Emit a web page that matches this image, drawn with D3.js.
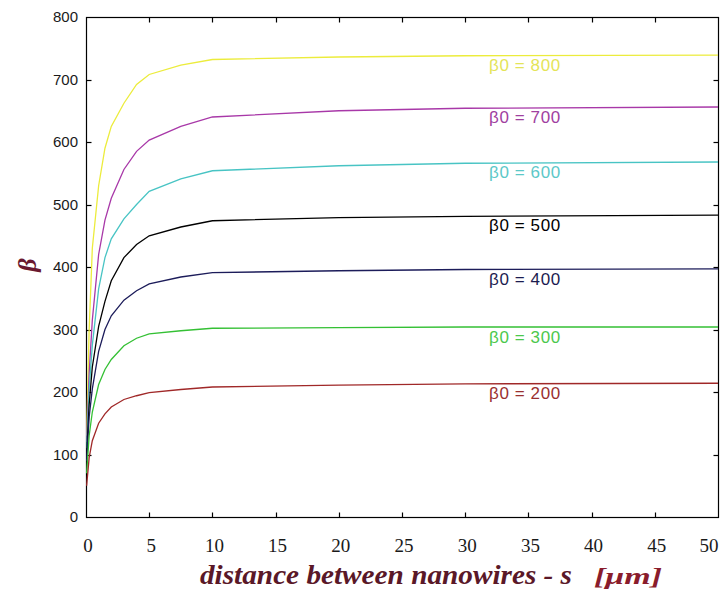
<!DOCTYPE html>
<html>
<head>
<meta charset="utf-8">
<script src="https://cdn.jsdelivr.net/npm/d3@7"></script>
<style>
  html, body { margin: 0; padding: 0; background: #ffffff; }
  svg { display: block; }
</style>
</head>
<body>
<svg id="chart" width="722" height="591"></svg>
<script>
// Spacing s between nanowires (µm) at which each curve is sampled
const sValues = [0.05, 0.25, 0.5, 1, 1.5, 2, 3, 4, 5, 7.5, 10, 20, 30, 50];

// Effective gain β for each initial gain β0
const beta200 = [50, 95, 122, 150, 165, 176, 188, 194, 199, 204, 208, 211, 213, 214];
const beta300 = [70, 130, 168, 212, 236, 252, 274, 286, 293, 298, 302, 303, 304, 304];
const beta400 = [90, 160, 205, 265, 300, 322, 347, 362, 373, 384, 391, 394, 396, 397];
const beta500 = [100, 180, 240, 305, 345, 378, 415, 436, 450, 464, 474, 479, 481, 483];
const beta600 = [110, 205, 275, 365, 415, 445, 477, 500, 521, 541, 554, 562, 566, 568];
const beta700 = [120, 230, 315, 420, 475, 510, 556, 585, 603, 625, 640, 650, 654, 656];
const beta800 = [130, 300, 430, 530, 590, 625, 662, 692, 708, 723, 732, 736, 738, 739];

const seriesNames = ["β0 = 800", "β0 = 700", "β0 = 600", "β0 = 500", "β0 = 400", "β0 = 300", "β0 = 200"];
const seriesValues = [beta800, beta700, beta600, beta500, beta400, beta300, beta200];
const lineColors  = ["#ecec3c", "#a838a8", "#48c4c4", "#000000", "#1c1c5a", "#34c034", "#a02828"];
const labelColors = ["#e4e458", "#a040a0", "#5cc8c8", "#000000", "#1c1c50", "#4cc84c", "#9a3030"];

const xTicks = [0, 5, 10, 15, 20, 25, 30, 35, 40, 45, 50];
const yTicks = [0, 100, 200, 300, 400, 500, 600, 700, 800];

const svg = d3.select("#chart");
const plotLeft = 86, plotRight = 718, plotTop = 17, plotBottom = 517;

const x = d3.scaleLinear().domain([0, 50]).range([plotLeft, plotRight]);
const y = d3.scaleLinear().domain([0, 800]).range([plotBottom, plotTop]);

// plot box
svg.append("rect")
  .attr("x", plotLeft + 0.5).attr("y", plotTop + 0.5)
  .attr("width", plotRight - plotLeft).attr("height", plotBottom - plotTop)
  .attr("fill", "none").attr("stroke", "#000").attr("stroke-width", 1.2);

// inward ticks on all four sides
const tickLen = 5;
const innerX = xTicks.filter(d => d > 0 && d < 50);
const innerY = yTicks.filter(d => d > 0 && d < 800);
const tickG = svg.append("g").attr("stroke", "#000").attr("stroke-width", 1.2);
innerX.forEach(d => {
  const px = Math.round(x(d)) + 0.5;
  tickG.append("line").attr("x1", px).attr("x2", px).attr("y1", plotBottom + 0.5).attr("y2", plotBottom + 0.5 - tickLen);
  tickG.append("line").attr("x1", px).attr("x2", px).attr("y1", plotTop + 0.5).attr("y2", plotTop + 0.5 + tickLen);
});
innerY.forEach(d => {
  const py = Math.round(y(d)) + 0.5;
  tickG.append("line").attr("x1", plotLeft + 0.5).attr("x2", plotLeft + 0.5 + tickLen).attr("y1", py).attr("y2", py);
  tickG.append("line").attr("x1", plotRight + 0.5).attr("x2", plotRight + 0.5 - tickLen).attr("y1", py).attr("y2", py);
});

// y tick labels
svg.append("g").selectAll("text").data(yTicks).join("text")
  .attr("x", 78).attr("y", d => y(d)).attr("dy", "0.36em")
  .attr("text-anchor", "end")
  .attr("font-family", "'Liberation Sans', Arial, sans-serif")
  .attr("font-size", 15).attr("fill", "#1a1a1a")
  .text(d => d);

// x tick labels
svg.append("g").selectAll("text").data(xTicks).join("text")
  .attr("x", d => d === 50 ? x(d) - 9 : x(d) + 2).attr("y", 552)
  .attr("text-anchor", "middle")
  .attr("font-family", "'Liberation Serif', 'Times New Roman', serif")
  .attr("font-size", 19).attr("fill", "#1a1a1a")
  .text(d => d);

// curves
const line = d3.line().x(d => x(d[0])).y(d => y(d[1]));
svg.append("clipPath").attr("id", "plotClip")
  .append("rect").attr("x", plotLeft).attr("y", plotTop)
  .attr("width", plotRight - plotLeft).attr("height", plotBottom - plotTop);

const curves = svg.append("g").attr("clip-path", "url(#plotClip)");
seriesValues.forEach((vals, i) => {
  curves.append("path")
    .datum(sValues.map((s, j) => [s, vals[j]]))
    .attr("d", line)
    .attr("fill", "none")
    .attr("stroke", lineColors[i])
    .attr("stroke-width", 1.3);
});

// series labels just below the plateau of each curve
svg.append("g").selectAll("text").data(seriesValues).join("text")
  .attr("x", 489)
  .attr("y", d => y(d[d.length - 1]) + 16)
  .attr("font-family", "'Liberation Sans', Arial, sans-serif")
  .attr("font-size", 17)
  .attr("letter-spacing", 0.6)
  .attr("fill", (d, i) => labelColors[i])
  .text((d, i) => seriesNames[i]);

// axis titles
svg.append("text")
  .attr("transform", "translate(36,265) rotate(-90)")
  .attr("text-anchor", "middle")
  .attr("font-family", "'Liberation Serif', 'Times New Roman', serif")
  .attr("font-style", "italic").attr("font-weight", "bold")
  .attr("font-size", 26).attr("fill", "#6a1830")
  .text("β");

svg.append("text")
  .attr("x", 200).attr("y", 584)
  .attr("textLength", 372).attr("lengthAdjust", "spacingAndGlyphs")
  .attr("font-family", "'Liberation Serif', 'Times New Roman', serif")
  .attr("font-style", "italic").attr("font-weight", "bold")
  .attr("font-size", 27).attr("fill", "#5a1828")
  .text("distance between nanowires - s");

svg.append("text")
  .attr("x", 594).attr("y", 584)
  .attr("textLength", 68).attr("lengthAdjust", "spacingAndGlyphs")
  .attr("font-family", "'Liberation Serif', 'Times New Roman', serif")
  .attr("font-style", "italic").attr("font-weight", "bold")
  .attr("font-size", 24).attr("fill", "#8a1c2c")
  .text("[μm]");
</script>
</body>
</html>
